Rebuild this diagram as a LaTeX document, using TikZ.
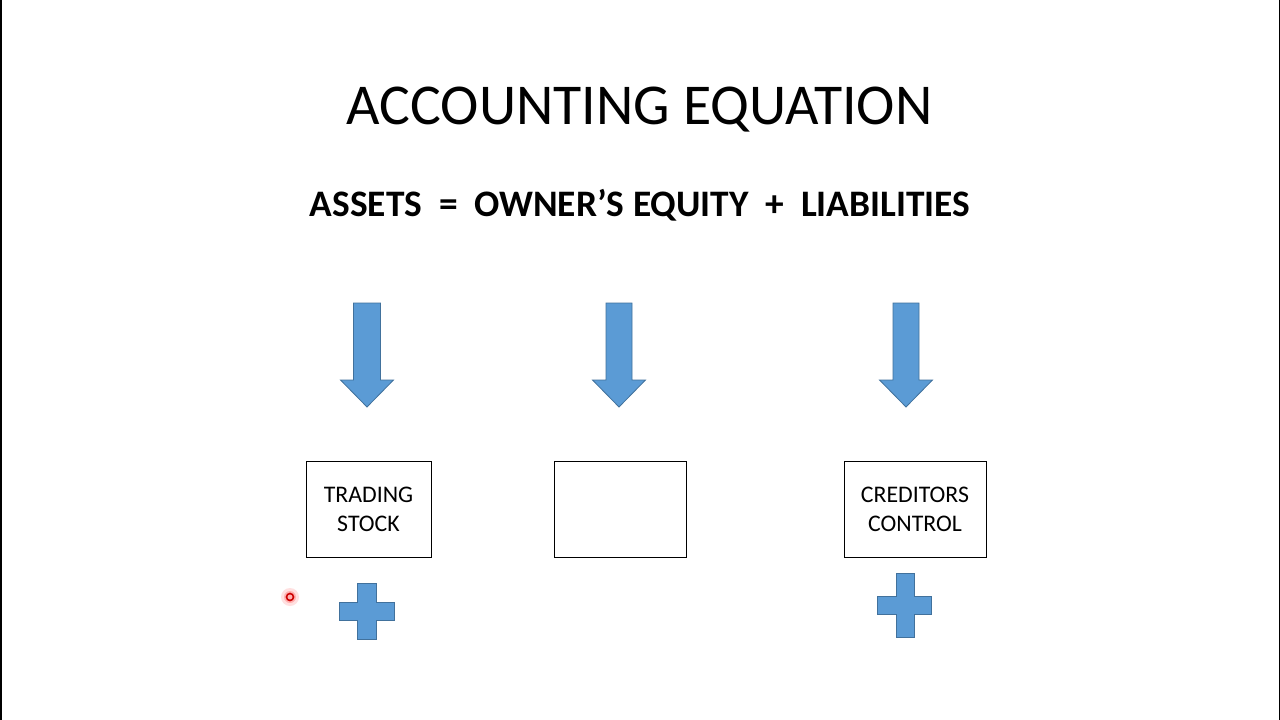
\documentclass[tikz,border=0pt]{standalone}
\usepackage{fontspec}
\setmainfont{Carlito}
\definecolor{blfill}{HTML}{5B9BD5}
\definecolor{blline}{HTML}{41719C}
\tikzset{
  blockshape/.style={fill=blfill,draw=blline,line width=0.8pt,line join=miter},
  boxnode/.style={draw=black,line width=1pt,fill=none},
  boxtext/.style={font=\fontsize{23.8}{28}\selectfont,anchor=base,inner sep=0pt},
}
\begin{document}
\begin{tikzpicture}[x=1pt,y=-1pt]
\useasboundingbox (0,0) rectangle (1280,720);
\fill[white] (0,0) rectangle (1280,720);
\draw[black,line width=1.5pt] (0.75,0) -- (0.75,720);
\draw[black,line width=1.5pt] (1279.25,0) -- (1279.25,720);
% title
\node[anchor=base,inner sep=0pt,font=\fontsize{57.8}{66}\selectfont] (title) at (639.5,124) {ACCOUNTING EQUATION};
\node[anchor=base,inner sep=0pt,font=\fontsize{37.4}{44}\selectfont\bfseries] (eq) at (640,216) {ASSETS\ \ =\ \ OWNER’S EQUITY\ \ +\ \ LIABILITIES};
% arrows
\fill[blockshape] (353.5,303) -- (380.5,303) -- (380.5,380) -- (393.5,380) -- (367,407) -- (340.5,380) -- (353.5,380) -- cycle;
\fill[blockshape] (606,303) -- (632,303) -- (632,380) -- (645.5,380) -- (619,407) -- (592.5,380) -- (606,380) -- cycle;
\fill[blockshape] (893,303) -- (919,303) -- (919,380) -- (932.5,380) -- (906,407) -- (879.5,380) -- (893,380) -- cycle;
% boxes
\draw[boxnode] (306.5,461.5) rectangle (431.5,557.5);
\draw[boxnode] (554.5,461.5) rectangle (686.5,557.5);
\draw[boxnode] (844.5,461.5) rectangle (986.5,557.5);
\node[boxtext] (t1a) at (368.5,502) {TRADING};
\node[boxtext] (t1b) at (368.5,531) {STOCK};
\node[boxtext] (t3a) at (915,502) {CREDITORS};
\node[boxtext] (t3b) at (915,531) {CONTROL};
% plus signs
\fill[blockshape] (357,583) -- (376,583) -- (376,602) -- (394,602) -- (394,620) -- (376,620) -- (376,639) -- (357,639) -- (357,620) -- (339,620) -- (339,602) -- (357,602) -- cycle;
\fill[blockshape] (896,573) -- (914,573) -- (914,596) -- (931,596) -- (931,614) -- (914,614) -- (914,637) -- (896,637) -- (896,614) -- (877,614) -- (877,596) -- (896,596) -- cycle;
% pointer
\fill[red!12] (290,597) circle (9);
\fill[red!30] (290,597) circle (6);
\draw[red!80!black,line width=1.6pt] (290,597) circle (3.5);
\end{tikzpicture}
\end{document}
